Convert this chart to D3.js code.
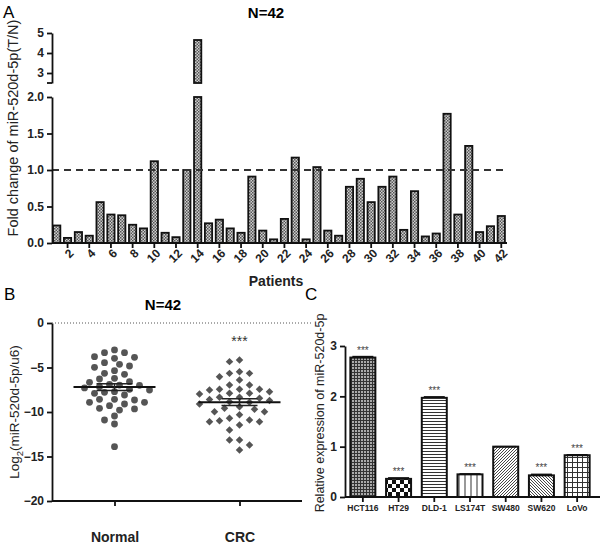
<!DOCTYPE html>
<html>
<head>
<meta charset="utf-8" />
<title>miR-520d-5p</title>
<style>
html, body { margin: 0; padding: 0; background: #fff; }
svg { font-family: "Liberation Sans", Arial, sans-serif; }
.tick text { font-weight: bold; fill: #222; }
</style>
</head>
<body>
<script src="https://d3js.org/d3.v7.min.js"></script>
<script>

// ---------------------------------------------------------
// Data

// Panel A: fold change (T/N) per patient
const patients = d3.range(1, 43)
const foldChange = [0.24, 0.07, 0.15, 0.10, 0.56, 0.39, 0.38, 0.25, 0.20, 1.12,
  0.14, 0.08, 1.00, 4.65, 0.27, 0.32, 0.20, 0.14, 0.91, 0.17,
  0.05, 0.33, 1.17, 0.05, 1.04, 0.17, 0.10, 0.77, 0.88, 0.56,
  0.77, 0.91, 0.18, 0.71, 0.09, 0.13, 1.77, 0.39, 1.33, 0.15,
  0.23, 0.37]
const lowerTicks = [0, 0.5, 1.0, 1.5, 2.0]
const upperTicks = [3, 4, 5]

// Panel B: log2(miR-520d-5p/u6)
const normalVals = [-3.03, -3.33, -3.33, -3.86, -3.97, -3.78, -4.64, -4.46, -4.98, -4.83,
  -5.66, -5.77, -5.36, -6.22, -6.29, -6.59, -6.67, -6.89, -6.97, -7.15,
  -7.53, -7.45, -7.79, -7.72, -8.09, -7.9, -8.58, -8.65, -8.58, -8.91,
  -9.1, -8.91, -9.29, -9.59, -9.78, -9.66, -10.45, -10.9, -11.35, -13.9,
  -7.3, -7.0]
const crcVals = [-4.34, -4.16, -5.66, -6.03, -5.66, -5.47, -6.4, -6.97, -6.97, -7.45,
  -7.45, -7.72, -7.53, -7.45, -7.9, -7.98, -7.9, -8.46, -8.35, -8.35,
  -8.84, -9.59, -9.4, -9.7, -9.96, -9.96, -10.9, -10.98, -11.46, -11.09,
  -11.09, -10.71, -12.02, -13.15, -13.15, -13.7, -14.27, -8.6, -8.9, -9.1,
  -8.7, -10.3]
const groupsB = ['Normal', 'CRC']
const ticksB = [0, -5, -10, -15, -20]

// Panel C: relative expression in cell lines
const cellLines = ['HCT116', 'HT29', 'DLD-1', 'LS174T', 'SW480', 'SW620', 'LoVo']
const relExpr = [2.77, 0.36, 1.97, 0.45, 1.0, 0.43, 0.83]
const relErr = [0.02, 0.02, 0.02, 0.01, 0.0, 0.02, 0.01]
const relStars = ['***', '***', '***', '***', '', '***', '***']
const ticksC = [0, 1, 2, 3]

// ---------------------------------------------------------

const svg = d3.select('body').append('svg')
  .attr('width', 600)
  .attr('height', 547)

const defs = svg.append('defs')

// fine checker for panel A bars
const pA = defs.append('pattern').attr('id', 'patA')
  .attr('width', 3).attr('height', 3).attr('patternUnits', 'userSpaceOnUse')
pA.append('rect').attr('width', 3).attr('height', 3).attr('fill', '#cfcfcf')
pA.append('rect').attr('width', 1.5).attr('height', 1.5).attr('fill', '#555')
pA.append('rect').attr('x', 1.5).attr('y', 1.5).attr('width', 1.5).attr('height', 1.5).attr('fill', '#555')

// patterns for panel C
function makePattern(id, w, h, draw) {
  const p = defs.append('pattern').attr('id', id)
    .attr('width', w).attr('height', h).attr('patternUnits', 'userSpaceOnUse')
  p.append('rect').attr('width', w).attr('height', h).attr('fill', '#fff')
  draw(p)
}
makePattern('pHCT', 3, 3, p => {
  p.select('rect').attr('fill', '#aaa')
  p.append('path').attr('d', 'M0,0.5H3M0.5,0V3').attr('stroke', '#333').attr('stroke-width', 1)
})
makePattern('pHT', 8, 8, p => {
  p.append('rect').attr('width', 4).attr('height', 4).attr('fill', '#111')
  p.append('rect').attr('x', 4).attr('y', 4).attr('width', 4).attr('height', 4).attr('fill', '#111')
})
makePattern('pDLD', 6, 3, p => {
  p.append('path').attr('d', 'M0,1.5H6').attr('stroke', '#333').attr('stroke-width', 1)
})
makePattern('pLS', 6, 6, p => {
  p.append('path').attr('d', 'M3,0V6').attr('stroke', '#333').attr('stroke-width', 1)
})
makePattern('pSW480', 3, 3, p => {
  p.append('path').attr('d', 'M-1,4L4,-1M-1,1L1,-1M2,4L4,2').attr('stroke', '#333').attr('stroke-width', 0.9)
})
makePattern('pSW620', 3, 3, p => {
  p.append('path').attr('d', 'M-1,-1L4,4M2,-1L4,1M-1,2L1,4').attr('stroke', '#333').attr('stroke-width', 0.9)
})
makePattern('pLoVo', 5, 5, p => {
  p.append('path').attr('d', 'M0,2.5H5M2.5,0V5').attr('stroke', '#333').attr('stroke-width', 1)
})
const patC = ['pHCT', 'pHT', 'pDLD', 'pLS', 'pSW480', 'pSW620', 'pLoVo']

// ---------------------------------------------------------
// Panel A

const gA = svg.append('g')

const xA = d3.scaleBand().domain(patients).range([52, 506]).paddingInner(0.33).paddingOuter(0.1)
const yLow = d3.scaleLinear().domain([0, 2]).range([243, 97])
const yUp = d3.scaleLinear().domain([2.5, 5]).range([83, 33])

// bars
gA.selectAll('rect.low').data(foldChange).enter().append('rect')
  .attr('class', 'low')
  .attr('x', (d, i) => xA(patients[i]))
  .attr('width', xA.bandwidth())
  .attr('y', d => yLow(Math.min(d, 2)))
  .attr('height', d => yLow(0) - yLow(Math.min(d, 2)))
  .attr('fill', 'url(#patA)')
  .attr('stroke', '#111')
  .attr('stroke-width', 1.8)

gA.selectAll('rect.up').data(foldChange.map((d, i) => ({ d, i })).filter(o => o.d > 2.5)).enter().append('rect')
  .attr('class', 'up')
  .attr('x', o => xA(patients[o.i]))
  .attr('width', xA.bandwidth())
  .attr('y', o => yUp(o.d))
  .attr('height', o => yUp(2.5) - yUp(o.d))
  .attr('fill', 'url(#patA)')
  .attr('stroke', '#111')
  .attr('stroke-width', 1.8)

// dashed reference at 1.0
gA.append('line')
  .attr('x1', 52).attr('x2', 507)
  .attr('y1', yLow(1)).attr('y2', yLow(1))
  .attr('stroke', '#333').attr('stroke-width', 2).attr('stroke-dasharray', '7,5')

// axes
const axLow = gA.append('g').attr('transform', 'translate(52,0)')
  .call(d3.axisLeft(yLow).tickValues(lowerTicks).tickFormat(d3.format('.1f')).tickSize(5).tickSizeOuter(0))
const axUp = gA.append('g').attr('transform', 'translate(52,0)')
  .call(d3.axisLeft(yUp).tickValues(upperTicks).tickFormat(d3.format('d')).tickSize(5).tickSizeOuter(0))
gA.append('line').attr('x1', 47).attr('x2', 52).attr('y1', yUp(2.5)).attr('y2', yUp(2.5))
  .attr('stroke', '#111').attr('stroke-width', 1.8)
const axXA = gA.append('g').attr('transform', 'translate(0,243)')
  .call(d3.axisBottom(xA).tickValues(patients.filter(p => p % 2 === 0)).tickSize(5).tickSizeOuter(0))
axXA.select('.domain').attr('d', 'M52,0H507')
axXA.selectAll('.tick text')
  .attr('text-anchor', 'end')
  .attr('x', 0).attr('y', 0).attr('dy', '0.35em')
  .attr('transform', 'translate(4,8) rotate(-45)')

;[axLow, axUp, axXA].forEach(a => {
  a.selectAll('.domain, .tick line').attr('stroke', '#111').attr('stroke-width', 1.8)
  a.selectAll('.tick text').style('font-size', '12px')
})

gA.append('text').attr('x', 3).attr('y', 18).text('A').style('font-size', '17px')
gA.append('text').attr('x', 266).attr('y', 18).attr('text-anchor', 'middle')
  .text('N=42').style('font-size', '15px').style('font-weight', 'bold')
gA.append('text').attr('transform', 'translate(18,128) rotate(-90)').attr('text-anchor', 'middle')
  .text('Fold change of miR-520d-5p(T/N)').style('font-size', '14.5px').attr('fill', '#222')
gA.append('text').attr('x', 276).attr('y', 286).attr('text-anchor', 'middle')
  .text('Patients').style('font-size', '14px').style('font-weight', 'bold').attr('fill', '#222')

// ---------------------------------------------------------
// Panel B

const gB = svg.append('g')
const xB = d3.scalePoint().domain(groupsB).range([52, 302]).padding(0.5)
const yB = d3.scaleLinear().domain([-20, 0]).range([501, 323])

gB.append('line').attr('x1', 52).attr('x2', 312).attr('y1', yB(0)).attr('y2', yB(0))
  .attr('stroke', '#555').attr('stroke-width', 1).attr('stroke-dasharray', '1,2')

// simple beeswarm placement
function swarm(values, cx, minDist) {
  const pts = values.map(v => ({ v, y: yB(v) })).sort((a, b) => a.y - b.y)
  const placed = []
  const offs = [0]
  for (let k = 1; k <= 8; k++) { offs.push(-k * 5, k * 5) }
  pts.forEach(p => {
    for (const o of offs) {
      const x = cx + o
      if (placed.every(q => Math.hypot(q.x - x, q.y - p.y) >= minDist)) { p.x = x; break }
    }
    placed.push(p)
  })
  return placed
}

const nPts = swarm(normalVals, xB('Normal'), 7.4)
gB.selectAll('circle').data(nPts).enter().append('circle')
  .attr('cx', d => d.x).attr('cy', d => d.y).attr('r', 3.4).attr('fill', '#555')

const cPts = swarm(crcVals, xB('CRC'), 7.4)
gB.selectAll('path.dia').data(cPts).enter().append('path')
  .attr('class', 'dia')
  .attr('d', d3.symbol(d3.symbolSquare, 28))
  .attr('transform', d => `translate(${d.x},${d.y}) rotate(45)`)
  .attr('fill', '#555')

// mean +/- SEM
;[[normalVals, 'Normal'], [crcVals, 'CRC']].forEach(([vals, g]) => {
  const m = d3.mean(vals)
  const sem = d3.deviation(vals) / Math.sqrt(vals.length)
  const cx = xB(g)
  gB.append('line').attr('x1', cx - 41).attr('x2', cx + 41).attr('y1', yB(m)).attr('y2', yB(m))
    .attr('stroke', '#111').attr('stroke-width', 2)
  ;[m - sem, m + sem].forEach(v => {
    gB.append('line').attr('x1', cx - 18).attr('x2', cx + 18).attr('y1', yB(v)).attr('y2', yB(v))
      .attr('stroke', '#222').attr('stroke-width', 1.5)
  })
  gB.append('line').attr('x1', cx).attr('x2', cx).attr('y1', yB(m - sem)).attr('y2', yB(m + sem))
    .attr('stroke', '#222').attr('stroke-width', 1.5)
})

const axYB = gB.append('g').attr('transform', 'translate(52,0)')
  .call(d3.axisLeft(yB).tickValues(ticksB).tickSize(5).tickSizeOuter(0))
const axXB = gB.append('g').attr('transform', 'translate(0,501)')
  .call(d3.axisBottom(xB).tickSize(5).tickSizeOuter(0))
axXB.select('.domain').attr('d', 'M52,0H302')
axXB.selectAll('.tick text').attr('dy', 0).attr('y', 41).style('font-size', '14px')
;[axYB, axXB].forEach(a => a.selectAll('.domain, .tick line').attr('stroke', '#111').attr('stroke-width', 1.8))
axYB.selectAll('.tick text').style('font-size', '12px')

gB.append('text').attr('x', xB('CRC')).attr('y', 346).attr('text-anchor', 'middle')
  .text('***').style('font-size', '14px').attr('fill', '#333')
gB.append('text').attr('x', 4).attr('y', 300).text('B').style('font-size', '17px')
gB.append('text').attr('x', 163).attr('y', 310).attr('text-anchor', 'middle')
  .text('N=42').style('font-size', '15px').style('font-weight', 'bold')
const tB = gB.append('text').attr('transform', 'translate(19,412) rotate(-90)').attr('text-anchor', 'middle')
  .style('font-size', '13.5px').attr('fill', '#222')
tB.append('tspan').text('Log')
tB.append('tspan').text('2').attr('dy', 4).style('font-size', '9.5px')
tB.append('tspan').text('(miR-520d-5p/u6)').attr('dy', -4)

// ---------------------------------------------------------
// Panel C

const gC = svg.append('g')
const xC = d3.scaleBand().domain(cellLines).range([345, 595]).paddingInner(0.3).paddingOuter(0.15)
const yC = d3.scaleLinear().domain([0, 3]).range([497, 346])

gC.selectAll('rect').data(relExpr).enter().append('rect')
  .attr('x', (d, i) => xC(cellLines[i]))
  .attr('width', xC.bandwidth())
  .attr('y', d => yC(d))
  .attr('height', d => yC(0) - yC(d))
  .attr('fill', (d, i) => `url(#${patC[i]})`)
  .attr('stroke', '#111').attr('stroke-width', 2)

// small error caps
gC.selectAll('line.err').data(relExpr).enter().append('line')
  .attr('class', 'err')
  .attr('x1', (d, i) => xC(cellLines[i]) + 2).attr('x2', (d, i) => xC(cellLines[i]) + xC.bandwidth() - 2)
  .attr('y1', (d, i) => yC(d + relErr[i])).attr('y2', (d, i) => yC(d + relErr[i]))
  .attr('stroke', '#111').attr('stroke-width', 1.5)

gC.selectAll('text.star').data(relExpr).enter().append('text')
  .attr('class', 'star')
  .attr('x', (d, i) => xC(cellLines[i]) + xC.bandwidth() / 2)
  .attr('y', (d, i) => yC(d + relErr[i]) - 3)
  .attr('text-anchor', 'middle')
  .text((d, i) => relStars[i])
  .style('font-size', '10px').attr('fill', '#444')

const axYC = gC.append('g').attr('transform', 'translate(345,0)')
  .call(d3.axisLeft(yC).tickValues(ticksC).tickFormat(d3.format('d')).tickSize(5).tickSizeOuter(0))
const axXC = gC.append('g').attr('transform', 'translate(0,497)')
  .call(d3.axisBottom(xC).tickSize(5).tickSizeOuter(0))
axXC.select('.domain').attr('d', 'M345,0H600')
axXC.selectAll('.tick text').attr('y', 8).style('font-size', '8.5px')
;[axYC, axXC].forEach(a => a.selectAll('.domain, .tick line').attr('stroke', '#111').attr('stroke-width', 1.8))
axYC.selectAll('.tick text').style('font-size', '12px')

gC.append('text').attr('x', 305).attr('y', 300).text('C').style('font-size', '17px')
gC.append('text').attr('transform', 'translate(324,413) rotate(-90)').attr('text-anchor', 'middle')
  .text('Relative expression of miR-520d-5p').style('font-size', '12.5px').attr('fill', '#222')

</script>
</body>
</html>
